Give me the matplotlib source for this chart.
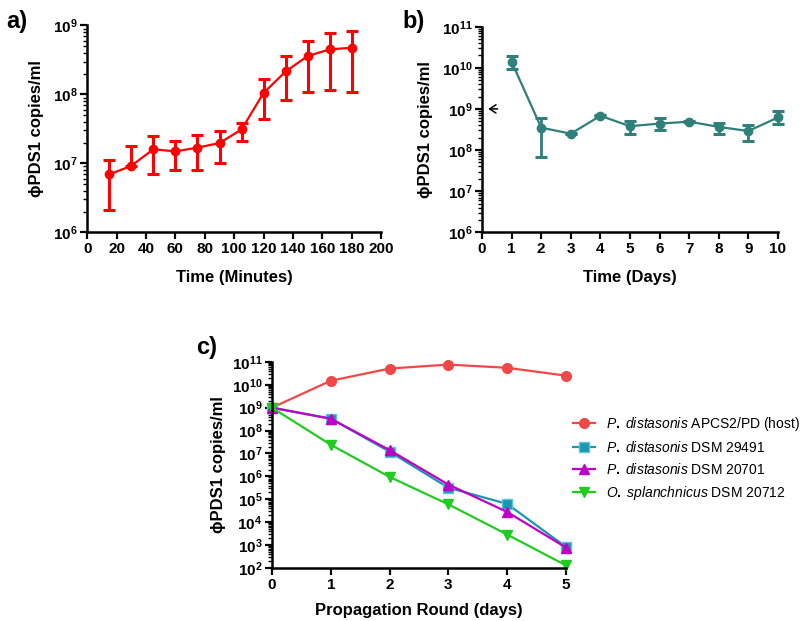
import numpy as np
import matplotlib
matplotlib.use("Agg")
import matplotlib.pyplot as plt
from matplotlib.ticker import FuncFormatter, LogLocator, NullFormatter, MultipleLocator

plt.rcParams['font.family'] = ['Liberation Sans', 'DejaVu Sans']
plt.rcParams['mathtext.fontset'] = 'custom'
plt.rcParams['mathtext.rm'] = 'Liberation Sans:bold'
plt.rcParams['mathtext.bf'] = 'Liberation Sans:bold'
plt.rcParams['mathtext.it'] = 'Liberation Sans:italic'

# panel a: one-step growth
time_min = [15, 30, 45, 60, 75, 90, 105, 120, 135, 150, 165, 180]
a_mean = [6.9e6, 9.2e6, 1.6e7, 1.49e7, 1.69e7, 1.97e7, 3.1e7, 1.05e8, 2.15e8, 3.6e8, 4.5e8, 4.75e8]
a_upper = [1.1e7, 1.8e7, 2.5e7, 2.1e7, 2.6e7, 2.9e7, 3.9e7, 1.7e8, 3.55e8, 6.0e8, 7.7e8, 8.4e8]
a_lower = [2.1e6, 9.0e6, 7.1e6, 8.1e6, 8.1e6, 1.0e7, 2.1e7, 4.4e7, 8.3e7, 1.1e8, 1.17e8, 1.1e8]

# panel b: daily titres
days = [1, 2, 3, 4, 5, 6, 7, 8, 9, 10]
b_mean = [1.4e10, 3.5e8, 2.5e8, 6.8e8, 3.8e8, 4.4e8, 4.9e8, 3.65e8, 2.9e8, 6.2e8]
b_upper = [1.9e10, 6.1e8, 2.6e8, 7.0e8, 5.2e8, 5.9e8, 5.0e8, 4.45e8, 4.1e8, 8.9e8]
b_lower = [9.4e9, 6.9e7, 2.4e8, 6.6e8, 2.5e8, 3.1e8, 4.8e8, 2.45e8, 1.65e8, 4.3e8]
inoculum = 1e9

# panel c: propagation rounds
rounds = [0, 1, 2, 3, 4, 5]
host = [1e9, 1.5e10, 5.1e10, 7.6e10, 5.5e10, 2.5e10]
dsm29491 = [1e9, 3.3e8, 1.2e7, 3.2e5, 6.3e4, 8.3e2]
dsm20701 = [1e9, 3.3e8, 1.4e7, 4.4e5, 2.8e4, 7.8e2]
dsm20712 = [1e9, 2.4e7, 9.5e5, 6.0e4, 2.9e3, 1.3e2]
c_labels = [r'$\it{P.\ distasonis}$ APCS2/PD (host)',
            r'$\it{P.\ distasonis}$ DSM 29491',
            r'$\it{P.\ distasonis}$ DSM 20701',
            r'$\it{O.\ splanchnicus}$ DSM 20712']

ylab = '\u03d5PDS1 copies/ml'
pow_fmt = FuncFormatter(lambda v, p: r'$10^{%d}$' % int(round(np.log10(v))))


def style_log(ax, lo, hi):
    ax.set_yscale('log')
    ax.set_ylim(lo, hi)
    ax.yaxis.set_major_locator(LogLocator(base=10, numticks=20))
    ax.yaxis.set_minor_locator(LogLocator(base=10, subs=np.arange(2, 10), numticks=20))
    ax.yaxis.set_major_formatter(pow_fmt)
    ax.yaxis.set_minor_formatter(NullFormatter())
    for s in ['top', 'right']:
        ax.spines[s].set_visible(False)
    for s in ['left', 'bottom']:
        ax.spines[s].set_linewidth(1.8)
    ax.tick_params(which='major', length=5, width=1.6, labelsize=11, pad=2)
    ax.tick_params(which='minor', length=3, width=1.0)


def bold_xticks(ax):
    for lab in ax.get_xticklabels():
        lab.set_fontweight('bold')


fig = plt.figure(figsize=(8, 6.21), dpi=100)

# a)
ax1 = fig.add_axes([0.109, 0.626, 0.3675, 0.333])
err_a = [np.array(a_mean) - np.array(a_lower), np.array(a_upper) - np.array(a_mean)]
ax1.errorbar(time_min, a_mean, yerr=err_a, color='#ff0000', marker='o', ms=6,
             lw=1.6, elinewidth=2.2, capsize=4, capthick=2.2, clip_on=False)
style_log(ax1, 1e6, 1e9)
ax1.set_xlim(0, 200)
ax1.xaxis.set_major_locator(MultipleLocator(20))
ax1.set_xlabel('Time (Minutes)', fontsize=12, fontweight='bold', labelpad=10)
ax1.set_ylabel(ylab, fontsize=12, fontweight='bold', labelpad=6)
bold_xticks(ax1)
fig.text(0.008, 0.965, 'a)', fontsize=17, fontweight='bold', va='center')

# b)
ax2 = fig.add_axes([0.6025, 0.626, 0.37, 0.331])
err_b = [np.array(b_mean) - np.array(b_lower), np.array(b_upper) - np.array(b_mean)]
ax2.errorbar(days, b_mean, yerr=err_b, color='#2f7f7a', marker='o', ms=6,
             lw=1.6, elinewidth=2.0, capsize=4, capthick=2.2, clip_on=False)
style_log(ax2, 1e6, 1e11)
ax2.set_xlim(0, 10)
ax2.xaxis.set_major_locator(MultipleLocator(1))
ax2.set_xlabel('Time (Days)', fontsize=12, fontweight='bold', labelpad=10)
ax2.set_ylabel(ylab, fontsize=12, fontweight='bold', labelpad=6)
bold_xticks(ax2)
ax2.annotate('', xy=(0.12, inoculum), xytext=(0.62, inoculum),
             arrowprops=dict(arrowstyle='->,head_length=0.45,head_width=0.3',
                             color='black', lw=1.1))
fig.text(0.503, 0.965, 'b)', fontsize=17, fontweight='bold', va='center')

# c)
ax3 = fig.add_axes([0.34, 0.0853, 0.3675, 0.332])
ax3.plot(rounds, host, color='#f04848', marker='o', ms=7, lw=1.6, clip_on=False, label=c_labels[0])
ax3.plot(rounds, dsm29491, color='#1a96b0', marker='s', ms=6.5, lw=1.6, mec='#5cc3d6',
         clip_on=False, label=c_labels[1])
ax3.plot(rounds, dsm20701, color='#c000c8', marker='^', ms=7, lw=1.6, clip_on=False, label=c_labels[2])
ax3.plot(rounds, dsm20712, color='#1fcc1f', marker='v', ms=7, lw=1.6, clip_on=False, label=c_labels[3])
style_log(ax3, 1e2, 1e11)
ax3.set_xlim(0, 5)
ax3.xaxis.set_major_locator(MultipleLocator(1))
ax3.set_xlabel('Propagation Round (days)', fontsize=12, fontweight='bold', labelpad=8)
ax3.set_ylabel(ylab, fontsize=12, fontweight='bold')
bold_xticks(ax3)
ax3.legend(loc='upper left', bbox_to_anchor=(0.7, 0.352), bbox_transform=fig.transFigure,
           frameon=False, fontsize=10, handlelength=1.6, labelspacing=0.5, handletextpad=0.8)
fig.text(0.245, 0.44, 'c)', fontsize=17, fontweight='bold', va='center')

fig.savefig('out.png', dpi=100)
